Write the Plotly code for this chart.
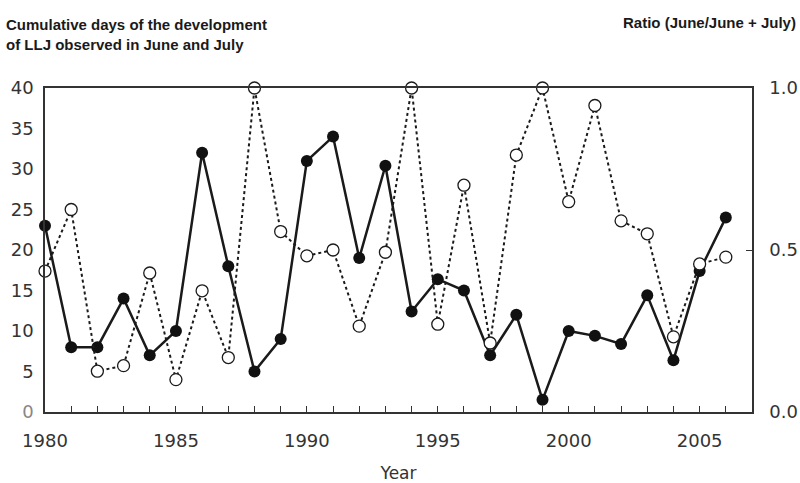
import plotly.graph_objects as go

years = list(range(1980, 2007))
days = [23.0, 8.0, 8.0, 14.0, 7.0, 10.0, 32.0, 18.0, 5.0, 9.0, 31.0, 34.0, 19.0, 30.4,
        12.4, 16.4, 15.0, 7.0, 12.0, 1.5, 10.0, 9.4, 8.4, 14.4, 6.4, 17.4, 24.0]
ratio = [0.435, 0.625, 0.126, 0.143, 0.429, 0.100, 0.374, 0.168, 1.0, 0.557, 0.482, 0.500,
         0.265, 0.493, 1.0, 0.271, 0.700, 0.213, 0.793, 1.0, 0.649, 0.946, 0.590, 0.550,
         0.232, 0.457, 0.478]

left_ticks = [0, 5, 10, 15, 20, 25, 30, 35, 40]
left_text = ['<span style="color:#888">0</span>'] + [str(v) for v in left_ticks[1:]]
right_ticks = [0.0, 0.5, 1.0]
right_text = ["0.0", "0.5", "1.0"]
x_labels = [1980, 1985, 1990, 1995, 2000, 2005]

FONT = "DejaVu Sans"
TFONT = "Liberation Sans, Arial"

fig = go.Figure()
fig.add_trace(go.Scatter(
    x=years, y=days, mode="lines+markers", yaxis="y",
    line=dict(color="#1a1a1a", width=2.5),
    marker=dict(symbol="circle", size=12, color="#111111", line=dict(width=0)),
    showlegend=False, cliponaxis=False))
fig.add_trace(go.Scatter(
    x=years, y=ratio, mode="lines+markers", yaxis="y2",
    line=dict(color="#1a1a1a", width=2, dash="dot"),
    marker=dict(symbol="circle", size=12, color="white", line=dict(color="#1a1a1a", width=1.3)),
    showlegend=False, cliponaxis=False))

fig.update_layout(
    width=800, height=483,
    margin=dict(l=45, r=48, t=88, b=71),
    paper_bgcolor="white", plot_bgcolor="white",
    font=dict(family=FONT, size=18, color="#333333"),
    xaxis=dict(range=[1980, 2007], showline=True, linecolor="#333333", linewidth=1.5,
               mirror=True, ticks="inside", ticklen=6, tickcolor="#333333",
               tickvals=years, ticktext=[str(y) if y in x_labels else "" for y in years],
               showgrid=False, zeroline=False, ticklabelstandoff=12, automargin=False,
               title=dict(text="Year", font=dict(family=FONT, size=17, color="#333333"), standoff=19)),
    yaxis=dict(range=[0, 40], showline=True, linecolor="#333333", linewidth=1.5,
               tickvals=left_ticks, ticktext=left_text, ticks="", showgrid=False,
               zeroline=False, ticklabelstandoff=6, automargin=False),
    yaxis2=dict(range=[0, 1], overlaying="y", side="right", showline=True,
                linecolor="#333333", linewidth=1.5, tickvals=right_ticks, ticktext=right_text,
                ticks="inside", ticklen=6, tickcolor="#333333", showgrid=False,
                zeroline=False, ticklabelstandoff=12, automargin=False),
)

fig.add_annotation(text="<b>Cumulative days of the development<br>of LLJ observed in June and July</b>",
                   xref="paper", yref="paper", x=0, y=1, xanchor="left", yanchor="bottom",
                   xshift=-41, yshift=33, align="left", showarrow=False,
                   font=dict(family=TFONT, size=15, color="#1a1a1a"))
fig.add_annotation(text="<b>Ratio (June/June + July)</b>",
                   xref="paper", yref="paper", x=1, y=1, xanchor="right", yanchor="bottom",
                   xshift=46, yshift=55, align="right", showarrow=False,
                   font=dict(family=TFONT, size=15, color="#1a1a1a"))

fig.write_html("out.html")
